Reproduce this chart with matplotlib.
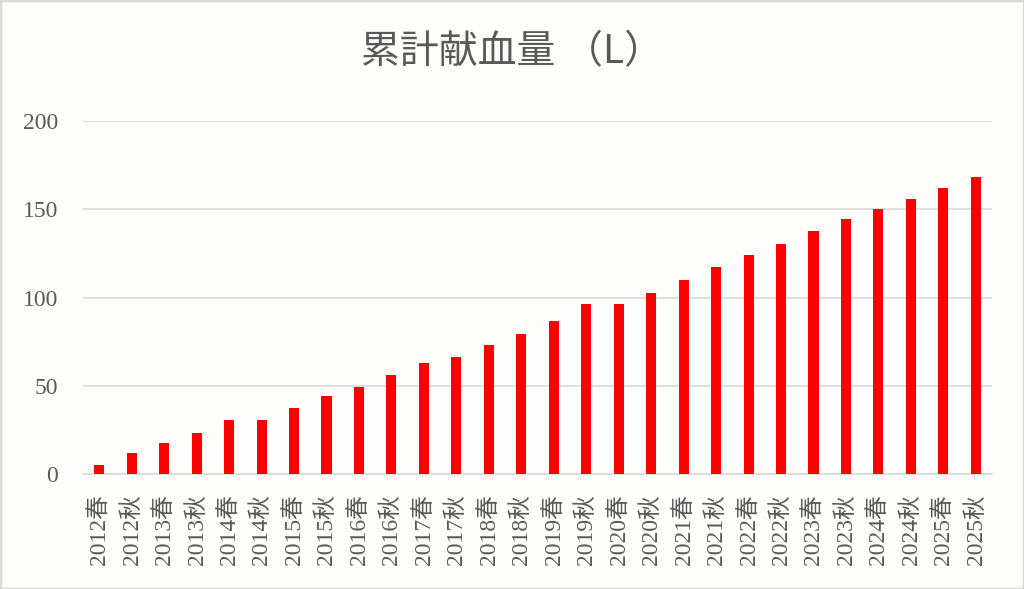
import matplotlib
matplotlib.use("Agg")
import matplotlib.pyplot as plt
from matplotlib.patches import Rectangle

categories = ["2012春", "2012秋", "2013春", "2013秋", "2014春", "2014秋",
              "2015春", "2015秋", "2016春", "2016秋", "2017春", "2017秋",
              "2018春", "2018秋", "2019春", "2019秋", "2020春", "2020秋",
              "2021春", "2021秋", "2022春", "2022秋", "2023春", "2023秋",
              "2024春", "2024秋", "2025春", "2025秋"]
values = [5.6, 11.9, 17.9, 23.4, 30.7, 30.7, 37.5, 44.1, 49.7, 56.1,
          62.9, 66.7, 73.1, 79.5, 86.6, 96.2, 96.2, 102.8, 110.1, 117.5,
          124.0, 130.4, 137.9, 144.7, 150.2, 155.7, 162.1, 168.3]
yticks = [0, 50, 100, 150, 200]
title = "累計献血量 （L）"

fonts = ["Liberation Serif", "Noto Sans CJK JP", "DejaVu Sans"]
plt.rcParams['font.family'] = fonts
txt = "#595959"
bg = "#fdfdfb"
grid = "#d9d9d9"

fig = plt.figure(figsize=(10.24, 5.89), dpi=100, facecolor=bg)
fig.patches.append(Rectangle((0, 0), 1, 1, transform=fig.transFigure,
                             fill=False, edgecolor=grid, linewidth=2.5, zorder=10))
ax = fig.add_axes([0.0811, 0.1944, 0.8877, 0.6007], facecolor=bg)

x = list(range(len(categories)))
ax.bar(x, values, width=0.31, color="#ff0000", zorder=3)
ax.set_xlim(-0.5, len(categories) - 0.5)
ax.set_ylim(0, 200)
ax.set_yticks(yticks)
ax.set_yticklabels([str(v) for v in yticks])
ax.set_xticks(x)
ax.set_xticklabels(categories, rotation=90, va="top", ha="center")

ax.grid(axis="y", color=grid, linewidth=1.2, zorder=0)
for s in ["top", "right", "left"]:
    ax.spines[s].set_visible(False)
ax.spines["bottom"].set_color(grid)
ax.spines["bottom"].set_linewidth(1.2)
ax.tick_params(axis="both", length=0, colors=txt, labelsize=17)
ax.tick_params(axis="y", pad=18)
ax.tick_params(axis="x", pad=14)

fig.text(0.50, 0.912, title, ha="center", va="center", fontsize=28, color=txt,
         family=["Noto Sans CJK JP", "DejaVu Sans"])

fig.savefig("out.png", dpi=100, facecolor=bg)
